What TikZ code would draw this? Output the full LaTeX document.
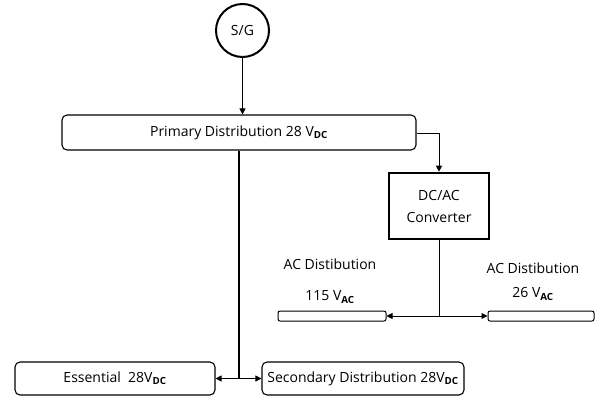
\documentclass[tikz,border=0pt]{standalone}
\usepackage{fontspec}
\setmainfont{Open Sans}
\usetikzlibrary{arrows.meta, positioning, calc}
\newcommand{\sub}[1]{\textsubscript{\bfseries #1}}
\tikzset{
  bus/.style={rectangle, rounded corners=5pt, draw, line width=1.1pt, inner sep=0pt,
    minimum height=35pt, align=center, font=\fontsize{14}{16}\selectfont},
  thinbus/.style={rectangle, rounded corners=2pt, draw, line width=1pt, inner sep=0pt,
    minimum height=10pt},
  conv/.style={rectangle, draw, line width=2.6pt, inner sep=0pt, minimum width=100pt,
    minimum height=66pt, align=center, font=\fontsize{14}{22}\selectfont},
  gen/.style={circle, draw, line width=2pt, minimum size=53pt, inner sep=0pt,
    font=\fontsize{14}{16}\selectfont},
  lbl/.style={font=\fontsize{14}{16}\selectfont, inner sep=0pt},
  arrow/.style={-{Triangle[length=6pt, width=6pt]}, line width=0.9pt},
  feeder/.style={line width=2pt},
}
\begin{document}
\begin{tikzpicture}[x=1pt, y=-1pt]
\useasboundingbox (0,0) rectangle (601,399);
% source and primary bus
\node[gen] (sg) at (242.5,30.5) {S/G};
\node[bus, minimum width=354pt] (prim) at (239,132.5) {Primary Distribution 28 V\sub{DC}};
\draw[arrow] (sg.south) -- (sg.south |- prim.north);
% converter branch
\node[conv] (dcac) at (439,206) {DC/AC\\Converter};
\draw[arrow] (prim.east |- 0,133) -| (dcac.north);
\node[thinbus, minimum width=108pt] (acl) at (332,316) {};
\node[thinbus, minimum width=106pt] (acr) at (541,316) {};
\coordinate (acj) at (dcac.south |- acl.east);
\draw[line width=0.9pt] (dcac.south) -- (acj);
\foreach \t in {acl.east, acr.west}
  \draw[arrow] (acj) -- (\t);
\node[lbl] (acltxt) at (330,264) {AC Distibution};
\node[lbl] (aclv) at (330,297) {115 V\sub{AC}};
\node[lbl] (acrtxt) at (533,268) {AC Distibution};
\node[lbl] (acrv) at (533,294) {26 V\sub{AC}};
% essential and secondary buses
\node[bus, minimum width=200pt, minimum height=33pt] (ess) at (115,378.5) {Essential\ \ 28V\sub{DC}};
\node[bus, minimum width=202pt, minimum height=33pt] (sec) at (363,378.5) {Secondary Distribution 28V\sub{DC}};
\coordinate (dcj) at (239,378.5);
\draw[feeder] (prim.south -| dcj) -- (dcj);
\foreach \t in {ess.east, sec.west}
  \draw[arrow] (dcj) -- (\t);
\end{tikzpicture}
\end{document}
